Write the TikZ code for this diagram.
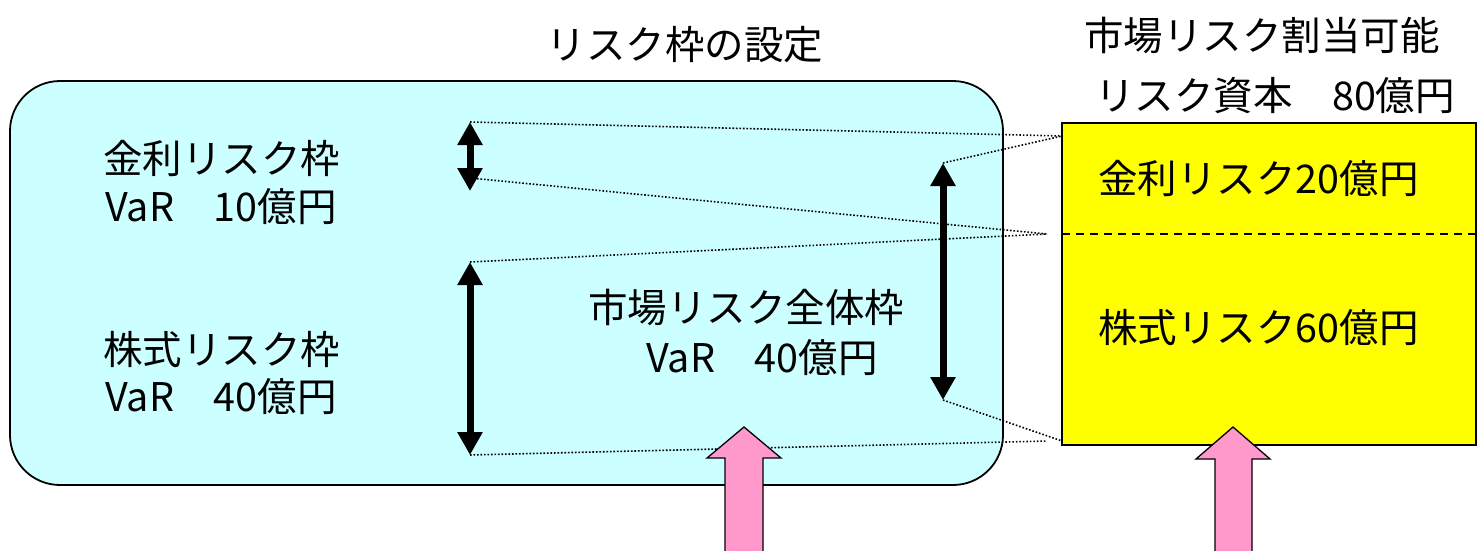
\documentclass[tikz,border=0pt]{standalone}
\usepackage{fontspec}
\setmainfont{Noto Sans CJK JP}
\usetikzlibrary{arrows.meta}
\definecolor{boxcyan}{HTML}{CCFFFF}
\definecolor{boxyellow}{HTML}{FFFF00}
\definecolor{pinkarrow}{HTML}{FF99CC}
\tikzset{
  lbl/.style={inner sep=0pt, anchor=west, font=\fontsize{39.5}{42}\selectfont},
  ttl/.style={inner sep=0pt, font=\fontsize{39.5}{42}\selectfont},
  dotline/.style={line width=1.6pt, dash pattern=on 1.6pt off 1.9pt},
  dblarrow/.style={line width=7pt, {Triangle[width=24pt,length=23pt]}-{Triangle[width=24pt,length=23pt]}},
  bigarrow/.style={draw=black, line width=1.3pt, fill=pinkarrow, line join=miter}
}
\begin{document}
\begin{tikzpicture}[x=1pt,y=-1pt]
\useasboundingbox (0,0) rectangle (1477,550);
% boxes
\draw[line width=1.8pt, fill=boxcyan, rounded corners=50pt] (10,81) rectangle (1003,485);
\draw[line width=1.8pt, fill=boxyellow] (1062,123) rectangle (1476,445);
\draw[line width=1.5pt, dash pattern=on 8pt off 6pt] (1062,234) -- (1477,234);
% coordinates
\coordinate (a1t) at (470,122);
\coordinate (a1m) at (470,178);
\coordinate (a1b) at (470,191);
\coordinate (a2t) at (470,262);
\coordinate (a2b) at (470,455);
\coordinate (a3t) at (943,163);
\coordinate (a3b) at (943,400);
\coordinate (yt) at (1062,136);
\coordinate (ym) at (1047,234);
\coordinate (yb) at (1062,441);
\coordinate (ybb) at (1047,441);
% dotted guide lines
\draw[dotline] (a1t) -- (yt);
\draw[dotline] (a3t) -- (yt);
\draw[dotline] (a1m) -- (ym);
\draw[dotline] (a2t) -- (ym);
\draw[dotline] (a3b) -- (yb);
\draw[dotline] (a2b) -- (ybb);
% double arrows
\draw[dblarrow] (a1t) -- (a1b);
\draw[dblarrow] (a2t) -- (a2b);
\draw[dblarrow] (a3t) -- (a3b);
% pink arrows
\draw[bigarrow] (744,427) -- (781,458) -- (763,458) -- (763,560) -- (725,560) -- (725,458) -- (707,458) -- cycle;
\draw[bigarrow] (1233,427) -- (1270,459) -- (1252,459) -- (1252,560) -- (1215,560) -- (1215,459) -- (1196,459) -- cycle;
% titles
\node[ttl] (t1) at (685,45) {リスク枠の設定};
\node[ttl] (t2) at (1262,35) {市場リスク割当可能};
\node[ttl] (t3) at (1275,96) {リスク資本　80億円};
% labels
\node[lbl] (k1) at (103,158) {金利リスク枠};
\node[lbl] (k2) at (105,207) {VaR　10億円};
\node[lbl] (s1) at (103,350) {株式リスク枠};
\node[lbl] (s2) at (105,397) {VaR　40億円};
\node[lbl] (m1) at (588,307) {市場リスク全体枠};
\node[lbl] (m2) at (646,358) {VaR　40億円};
\node[lbl] (y1) at (1098,178) {金利リスク20億円};
\node[lbl] (y2) at (1098,328) {株式リスク60億円};
\end{tikzpicture}
\end{document}
